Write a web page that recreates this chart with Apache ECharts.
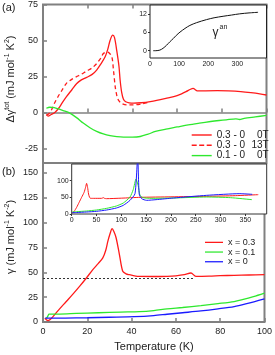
<!DOCTYPE html>
<html><head><meta charset="utf-8">
<script src="https://cdn.jsdelivr.net/npm/echarts@6/dist/echarts.min.js"></script>
<style>html,body{margin:0;padding:0;background:#fff}#c{width:275px;height:355px}</style>
</head><body><div id="c"></div>
<script>
// Panel (a): Δγ_tot vs T
const aRed0T = [1.5,2.3,3.5,5.3,7,8.5,10.5,13,15,17,19.5,22,24,26,27.8,29,30,31.2,32,33,34,34.5,35.2,36,37,38.5,40.5,44,48,52,55,58.5,62,64,66,67.2,68,69,72,78,83,88.5,93,97,100];
const aRed0V = [-1.6,-2.4,-1.5,0,3,6.5,11,16,20,22.5,24.4,26.5,29.5,34,38.7,44,50,53.7,52,43,32,22.6,14,9.2,7.5,6.8,6.5,6.8,7.6,8.8,9.8,11,13,14.5,16.2,16.8,16,15,15.1,15.2,15,14.5,13.8,13,12.2];
const aRed13T = [1.5,2.5,3.8,5.3,6.7,8.5,10.5,13,15,17,19.5,22,24,26,27,28.5,29.5,30.8,31.5,32.3,33,33.7,35,37.5,40.5,44,48];
const aRed13V = [-1.5,-1,1.9,7,11,15.5,20.3,23.2,24.9,26.5,28.8,31,34,38,41,42,41.5,38.7,30,18,12,8.8,6.5,5.3,5.3,6,7.5];
const aGrnT = [1.5,3,5,7,9,12,15,18,21,24,27,30,33,36,40,43.5,47,50.3,55,60,65,70,75,78.8,82,86.3,88,90,95,100];
const aGrnV = [3,3.7,3.4,2.5,1.4,-0.4,-3.5,-7.3,-10.5,-13,-14.8,-16,-16.7,-17,-17,-16.6,-15,-13.1,-11.5,-10,-8.5,-7.3,-6.2,-5.5,-5,-4.4,-4.8,-4,-3,-2];
// Inset (a): γ_an
const anT = [11,20,34,45,57,68,80,90,103,120,137,160,194,220,251,280,308,340,371];
const anV = [0,0,0.2,0.8,1.8,2.9,4,5,6.1,7.3,8.3,9.2,10.2,10.8,11.3,11.7,12.1,12.4,12.6];
// Panel (b): γ vs T
const bRedT = [0.8,2.3,4.5,7,10.5,13.5,16.5,19.5,22.5,25,27,28.3,29.3,30.3,31.2,32,33,34.5,36,37.5,39,41.3,43.5,50,56,60,63.8,66.8,69,75,80,86.3,93,100];
const bRedV = [3.7,1.3,5.4,12,20.6,28,35.8,44,52.7,59,64.5,72,81.4,89,94,91,84.8,67.9,51,48.5,47.6,46.5,45.9,45.8,46,46.5,47.6,49.3,46,46.2,46.6,47,47.3,47.6];
const bGrnT = [1.5,2.2,2.7,4,7.5,15,25,35,43.5,50,56,63,71.3,79,86.3,90,95,100];
const bGrnV = [3.7,6,7.8,8,8,8.6,9.3,10,10.4,11.5,13.2,14.6,16.5,18.5,20.6,22.5,25.5,29];
const bBluT = [1,5,10,20,30,41.3,50,56,63,71.3,79,86.3,92,100];
const bBluV = [3.8,3.9,4,4.3,4.8,5.4,6.5,7.8,9.3,11.1,13.2,15.5,18.5,23.3];
const refLevel = 44.5, refEnd = 68;
// Inset (b): γ over wide range
const iRedT = [1,5,10,15,20,25,28,30,32,34,36,38,45,60,64,66,70,100,138,200,272,330,376];
const iRedV = [3,8,20,35,50,65,80,92,80,60,50,47,47,47,49,47,46,47.5,50,51.5,53,55,58];
const iGrnT = [1,10,30,50,70.5,90,104,117.5,124,129.6,134,137.7,144,160,205,272,320,363];
const iGrnV = [6,7,9,12,17,24,33,51,73,105,85,56,49,47,48,51,49,43];
const iBluT = [1,10,30,50,70.5,90,104,117.5,127.6,133,136,141,151,170,205,272,339,364];
const iBluV = [4,4.5,6,8,12,18,26,41,61,170,60,46,41,43,48,56,61,59];
// tick labels
const aYTicks = [-25,0,25,50,75];
const bYTicks = [0,25,50,75,100,125,150];
const anXTicks = [0,100,200,300];
const anYTicks = [0,6,12];
const ibXTicks = [0,50,100,150,200,250,300,350];
const ibYTicks = [0,50,100];

const zip = (x,y)=>x.map((v,i)=>[v,y[i]]);
const FF = "'Liberation Sans', Arial, sans-serif";
const GRAY = '#808080';
const RED = '#ff1a1a', GRN = '#2ee82e', BLU = '#1a1aff';
const SOLID = 'path://M0,0h20v1.4h-20z';
const DASH = 'path://M0,0h5v1.4h-5zM7.5,0h5v1.4h-5zM15,0h5v1.4h-5z';

const chart = echarts.init(document.getElementById('c'), null, {renderer:'canvas'});
function mainX(grid, pos, labels){
  return {type:'value', gridIndex:grid, position:pos, min:0, max:100, interval:20,
    axisLine:{show:false}, splitLine:{show:false},
    axisTick:{show:true, inside:true, length:4, lineStyle:{color:GRAY, width:1.5}},
    axisLabel:{show:labels, fontSize:9, color:'#222', fontFamily:FF, margin:5}};
}
function insetAxis(grid, min, max, ticks){
  return {type:'value', gridIndex:grid, min:min, max:max,
    axisLine:{show:false}, splitLine:{show:false},
    axisTick:{show:true, inside:false, length:2, customValues:ticks, lineStyle:{color:'#333'}},
    axisLabel:{fontSize:7, color:'#222', fontFamily:FF, margin:3, customValues:ticks}};
}
const line = (name, data, xi, yi, color, extra)=>Object.assign({
  name, type:'line', xAxisIndex:xi, yAxisIndex:yi, data, showSymbol:false, symbol:'none',
  smooth:0.3, lineStyle:{color, width:1.3}, itemStyle:{color}, silent:true, clip:true}, extra||{});

chart.setOption({
  animation:false,
  grid:[
    {left:43, top:4, width:223.5, height:159, show:true, borderColor:GRAY, borderWidth:2},
    {left:43, top:163, width:223.5, height:159, show:true, borderColor:GRAY, borderWidth:2},
    {left:150, top:5, width:116.5, height:53, show:true, borderColor:'#222', borderWidth:1, backgroundColor:'#fff', z:5},
    {left:71.7, top:164, width:195, height:50, show:true, borderColor:'#333', borderWidth:1, backgroundColor:'#fff', z:5}
  ],
  xAxis:[
    mainX(0,'bottom',false), mainX(0,'top',false),
    mainX(1,'bottom',true), mainX(1,'top',false),
    insetAxis(2,0,400,anXTicks),
    insetAxis(3,0,393,ibXTicks)
  ],
  yAxis:[
    {type:'value', gridIndex:0, min:-35, max:75, axisLine:{show:false}, splitLine:{show:false},
     axisTick:{inside:true, length:4, customValues:aYTicks, lineStyle:{color:GRAY, width:1.5}},
     axisLabel:{fontSize:9, color:'#222', fontFamily:FF, margin:5, customValues:aYTicks}},
    {type:'value', gridIndex:1, min:0, max:160, axisLine:{show:false}, splitLine:{show:false},
     axisTick:{inside:true, length:4, customValues:bYTicks, lineStyle:{color:GRAY, width:1.5}},
     axisLabel:{fontSize:9, color:'#222', fontFamily:FF, margin:5, customValues:bYTicks}},
    insetAxis(2,-2.4,15,anYTicks),
    insetAxis(3,0,150,ibYTicks)
  ],
  legend:[
    {orient:'vertical', left:186.7, top:125, itemWidth:20, itemHeight:11, itemGap:0.3,
     itemStyle:{borderWidth:0},
     data:[{name:'0.3 - 0|0T', icon:SOLID},{name:'0.3 - 0|13T', icon:DASH},{name:'0.1 - 0|0T', icon:SOLID}], selectedMode:false,
     formatter:n=>{const p=n.split('|');return '{a|'+p[0]+'}{b|'+p[1]+'}';},
     textStyle:{fontFamily:FF, fontSize:10, color:'#222', rich:{
       a:{fontFamily:FF, fontSize:10, width:34, lineHeight:11, color:'#222'},
       b:{fontFamily:FF, fontSize:10, width:18, align:'right', lineHeight:11, color:'#222'}}}},
    {orient:'vertical', left:200, top:232.5, itemWidth:18, itemHeight:9.7, itemGap:0,
     itemStyle:{borderWidth:0},
     data:[{name:'x = 0.3', icon:SOLID},{name:'x = 0.1', icon:SOLID},{name:'x = 0', icon:SOLID}], selectedMode:false,
     textStyle:{fontFamily:FF, fontSize:9, color:'#222', lineHeight:9.7}}
  ],
  series:[
    line('0.3 - 0|0T', zip(aRed0T,aRed0V), 0,0, RED, {z:3, markLine:{silent:true, symbol:'none', animation:false,
      label:{show:false}, lineStyle:{color:GRAY, width:1.5, type:'solid'}, data:[{yAxis:0}], z:1}}),
    line('0.3 - 0|13T', zip(aRed13T,aRed13V), 0,0, RED, {lineStyle:{color:RED, width:1.3, type:[4,3]}}),
    line('0.1 - 0|0T', zip(aGrnT,aGrnV), 0,0, GRN),
    line('gan', zip(anT,anV), 4,2, '#111', {lineStyle:{color:'#111', width:1}, z:6}),
    line('x = 0.3', zip(bRedT,bRedV), 2,1, RED, {z:3, markLine:{silent:true, symbol:'none', animation:false,
      label:{show:false}, lineStyle:{color:'#333', width:1, type:[2,2]},
      data:[[{coord:[0,refLevel]},{coord:[refEnd,refLevel]}]]}}),
    line('x = 0.1', zip(bGrnT,bGrnV), 2,1, GRN),
    line('x = 0', zip(bBluT,bBluV), 2,1, BLU),
    line('ir', zip(iRedT,iRedV), 5,3, RED, {z:6, smooth:0.2, lineStyle:{color:RED, width:1}}),
    line('ig', zip(iGrnT,iGrnV), 5,3, GRN, {z:6, smooth:0.2, lineStyle:{color:GRN, width:1}}),
    line('ib', zip(iBluT,iBluV), 5,3, BLU, {z:7, smooth:0.2, lineStyle:{color:BLU, width:1}})
  ],
  graphic:[
    {type:'text', left:2, top:2, style:{text:'(a)', font:'11px '+FF, fill:'#222'}},
    {type:'text', left:2, top:166, style:{text:'(b)', font:'11px '+FF, fill:'#222'}},
    {type:'text', x:212.5, y:33, z:10, style:{text:'γ', font:'12px '+FF, fill:'#222', verticalAlign:'middle'}},
    {type:'text', x:219.5, y:27, z:10, style:{text:'an', font:'7px '+FF, fill:'#222', verticalAlign:'middle'}},
    {type:'text', x:11, y:79, rotation:Math.PI/2, style:{
      text:'{n|Δγ}{s|tot}{n| (mJ mol}{s|-1}{n| K}{s|2}{n|)}', align:'center', verticalAlign:'middle',
      rich:{n:{font:'11px '+FF, fill:'#222', lineHeight:14}, s:{font:'7px '+FF, fill:'#222', lineHeight:9, verticalAlign:'top'}}}},
    {type:'text', x:11, y:237, rotation:Math.PI/2, style:{
      text:'{n|γ (mJ mol}{s|-1}{n| K}{s|-2}{n|)}', align:'center', verticalAlign:'middle',
      rich:{n:{font:'11px '+FF, fill:'#222', lineHeight:14}, s:{font:'7px '+FF, fill:'#222', lineHeight:9, verticalAlign:'top'}}}},
    {type:'text', x:154, y:347, style:{text:'Temperature (K)', font:'11px '+FF, fill:'#222', align:'center', verticalAlign:'middle'}}
  ]
});
</script></body></html>
